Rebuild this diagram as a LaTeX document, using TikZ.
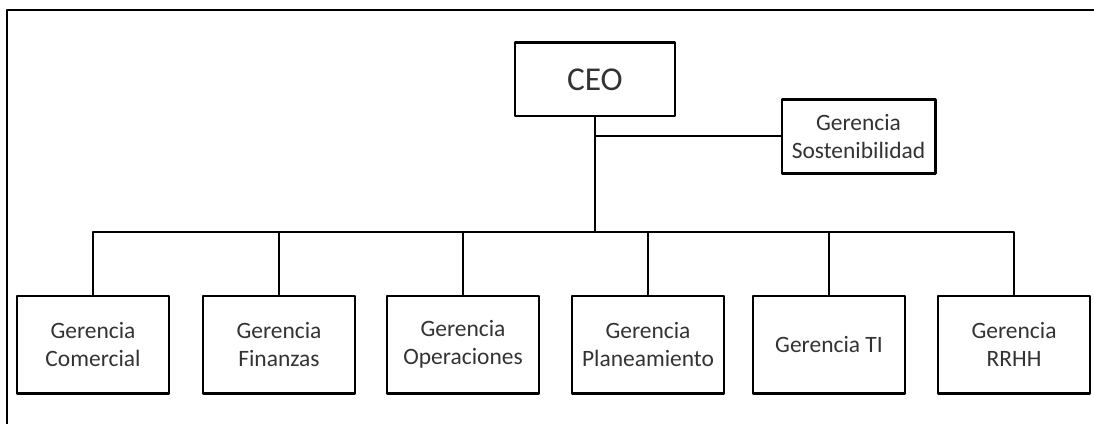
\documentclass[tikz,border=0pt]{standalone}
\usepackage{fontspec}
\setmainfont{Carlito}
\begin{document}
\begin{tikzpicture}[x=0.75pt, y=-0.75pt, line join=round, line cap=round]
 \tikzset{box/.style={draw, line width=2pt, minimum width=114pt, minimum height=73pt, inner sep=0pt, align=center, text=black!80, font=\fontsize{17.6}{21}\selectfont}}
 \useasboundingbox (0,0) rectangle (1094,424);
 \draw[line width=1.5pt] (7,424)--(7,10)--(1094,10);
 \node[box, minimum width=120pt, minimum height=55pt, font=\fontsize{25}{30}\selectfont] (ceo) at (595,79.5) {CEO};
 \node[box, minimum width=115pt, minimum height=55pt] (sost) at (858.5,136.5) {Gerencia\\Sostenibilidad};
 \node[box] (com) at (93,344.5) {Gerencia\\Comercial};
 \node[box] (fin) at (279,344.5) {Gerencia\\Finanzas};
 \node[box] (ope) at (463,344.5) {Gerencia\\Operaciones};
 \node[box] (pla) at (648,344.5) {Gerencia\\Planeamiento};
 \node[box] (ti) at (829,344.5) {\raisebox{-4pt}{Gerencia TI}};
 \node[box] (rrhh) at (1014,344.5) {Gerencia\\RRHH};
 \coordinate (bus) at (595,232);
 \begin{scope}[line width=1.5pt]
 \draw (ceo.south)--(bus);
 \draw (sost.west)--(sost.west -| ceo.south);
 \draw (com.north) |- (bus) -| (rrhh.north);
 \foreach \n in {fin,ope,pla,ti} \draw (\n.north)--(\n.north |- bus);
 \end{scope}
\end{tikzpicture}
\end{document}
